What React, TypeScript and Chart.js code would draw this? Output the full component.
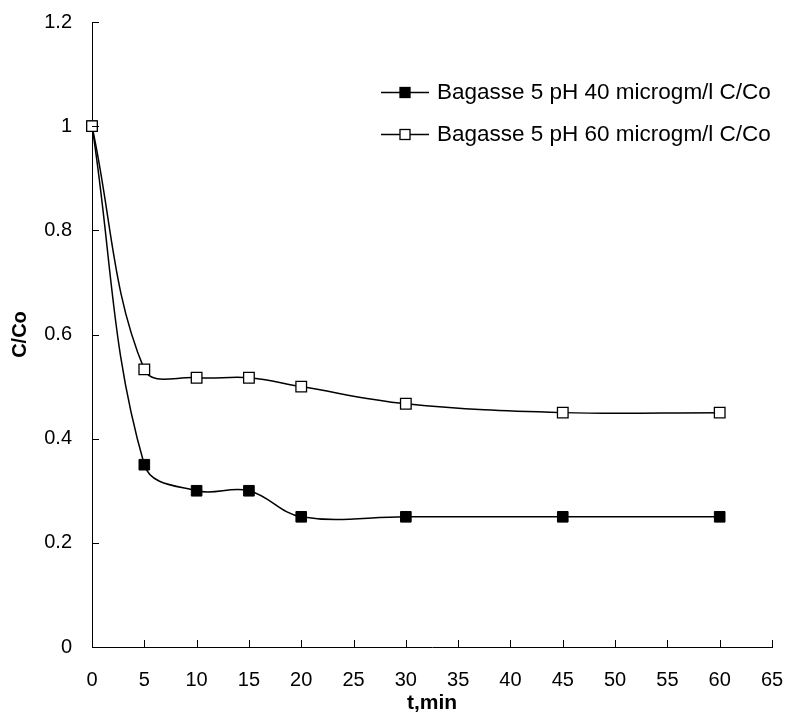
import { useEffect, useRef } from 'react';
import { Chart, registerables } from 'chart.js';

Chart.register(...registerables);

const times = [0, 5, 10, 15, 20, 30, 45, 60];
const series40 = [1, 0.35, 0.3, 0.3, 0.25, 0.25, 0.25, 0.25];
const series60 = [1, 0.533, 0.517, 0.517, 0.5, 0.467, 0.45, 0.45];
const seriesLabels = ['Bagasse 5 pH 40 microgm/l C/Co', 'Bagasse 5 pH 60 microgm/l C/Co'];
const xTickValues = [0, 5, 10, 15, 20, 25, 30, 35, 40, 45, 50, 55, 60, 65];
const yTickValues = [0, 0.2, 0.4, 0.6, 0.8, 1, 1.2];
const yTickLabels = ['0', '0.2', '0.4', '0.6', '0.8', '1', '1.2'];
const xTitle = 't,min';
const yTitle = 'C/Co';

const FONT = '"Liberation Sans", Arial, sans-serif';

const decorPlugin = {
  id: 'decor',
  afterDraw(chart: any) {
    const ctx = chart.ctx;
    const xs = chart.scales.x;
    const ys = chart.scales.y;
    const area = chart.chartArea;
    ctx.save();
    ctx.strokeStyle = '#000';
    ctx.lineWidth = 1;
    // inward ticks
    ctx.beginPath();
    yTickValues.forEach((v) => {
      const py = Math.round(ys.getPixelForValue(v)) + 0.5;
      ctx.moveTo(area.left, py);
      ctx.lineTo(area.left + 7, py);
    });
    xTickValues.forEach((v) => {
      const px = Math.round(xs.getPixelForValue(v)) + 0.5;
      ctx.moveTo(px, area.bottom);
      ctx.lineTo(px, area.bottom - 7);
    });
    ctx.stroke();

    // axis titles
    ctx.fillStyle = '#000';
    ctx.font = `bold 21px ${FONT}`;
    ctx.textAlign = 'center';
    ctx.textBaseline = 'middle';
    ctx.fillText(xTitle, (area.left + area.right) / 2, 703);
    ctx.save();
    ctx.translate(20, (area.top + area.bottom) / 2);
    ctx.rotate(-Math.PI / 2);
    ctx.font = `bold 20px ${FONT}`;
    ctx.fillText(yTitle, 0, 0);
    ctx.restore();

    // legend
    ctx.font = `22.5px ${FONT}`;
    ctx.textAlign = 'left';
    const rows = [92, 134];
    chart.data.datasets.forEach((ds: any, i: number) => {
      const y = rows[i] + 0.5;
      ctx.beginPath();
      ctx.lineWidth = 1.5;
      ctx.moveTo(381, y);
      ctx.lineTo(429, y);
      ctx.stroke();
      ctx.fillStyle = ds.pointBackgroundColor;
      ctx.fillRect(400, y - 5, 10, 10);
      ctx.lineWidth = 1.3;
      ctx.strokeRect(400, y - 5, 10, 10);
      ctx.fillStyle = '#000';
      ctx.fillText(seriesLabels[i], 437, y);
    });
    ctx.restore();
  },
};

export default function App() {
  const ref = useRef<HTMLCanvasElement>(null);
  useEffect(() => {
    if (!ref.current) return;
    const chart = new Chart(ref.current, {
      type: 'line',
      data: {
        datasets: [
          {
            label: seriesLabels[0],
            data: times.map((t, i) => ({ x: t, y: series40[i] })),
            borderColor: '#000',
            borderWidth: 1.5,
            pointStyle: 'rect',
            pointRadius: 7.5,
            pointBackgroundColor: '#000',
            pointBorderColor: '#000',
            pointBorderWidth: 1,
            tension: 0.38,
            fill: false,
            clip: false,
            order: 1,
          },
          {
            label: seriesLabels[1],
            data: times.map((t, i) => ({ x: t, y: series60[i] })),
            borderColor: '#000',
            borderWidth: 1.5,
            pointStyle: 'rect',
            pointRadius: 7.5,
            pointBackgroundColor: '#fff',
            pointBorderColor: '#000',
            pointBorderWidth: 1.3,
            tension: 0.38,
            fill: false,
            clip: false,
            order: 0,
          },
        ],
      },
      options: {
        animation: false,
        responsive: false,
        maintainAspectRatio: false,
        layout: { padding: { left: 0, top: 22, right: 23, bottom: 0 } },
        plugins: { legend: { display: false }, tooltip: { enabled: false } },
        scales: {
          x: {
            type: 'linear',
            min: 0,
            max: 65,
            grid: { display: false, drawTicks: false },
            border: { display: true, color: '#000', width: 1 },
            afterFit: (s: any) => {
              s.height = 66;
              s.paddingLeft = 0;
              s.paddingRight = 0;
              s.paddingTop = 0;
              s.paddingBottom = 0;
            },
            afterBuildTicks: (s: any) => { s.ticks = xTickValues.map((v) => ({ value: v })); },
            ticks: {
              color: '#000',
              font: { family: FONT, size: 20 },
              padding: 21,
              maxRotation: 0,
              callback: (v: any) => String(v),
            },
          },
          y: {
            type: 'linear',
            min: 0,
            max: 1.2,
            grid: { display: false, drawTicks: false },
            border: { display: true, color: '#000', width: 1 },
            afterFit: (s: any) => {
              s.width = 92;
              s.paddingLeft = 0;
              s.paddingRight = 0;
              s.paddingTop = 0;
              s.paddingBottom = 0;
            },
            afterBuildTicks: (s: any) => { s.ticks = yTickValues.map((v) => ({ value: v })); },
            ticks: {
              color: '#000',
              font: { family: FONT, size: 20 },
              padding: 20,
              callback: (v: any) => {
                const idx = yTickValues.findIndex((t) => Math.abs(t - v) < 1e-9);
                return idx >= 0 ? yTickLabels[idx] : '';
              },
            },
          },
        },
      },
      plugins: [decorPlugin],
    });
    return () => chart.destroy();
  }, []);
  return (
    <div style={{ position: 'fixed', left: 0, top: 0, width: 795, height: 713, background: '#fff' }}>
      <canvas ref={ref} width={795} height={713} style={{ width: 795, height: 713 }} />
    </div>
  );
}
